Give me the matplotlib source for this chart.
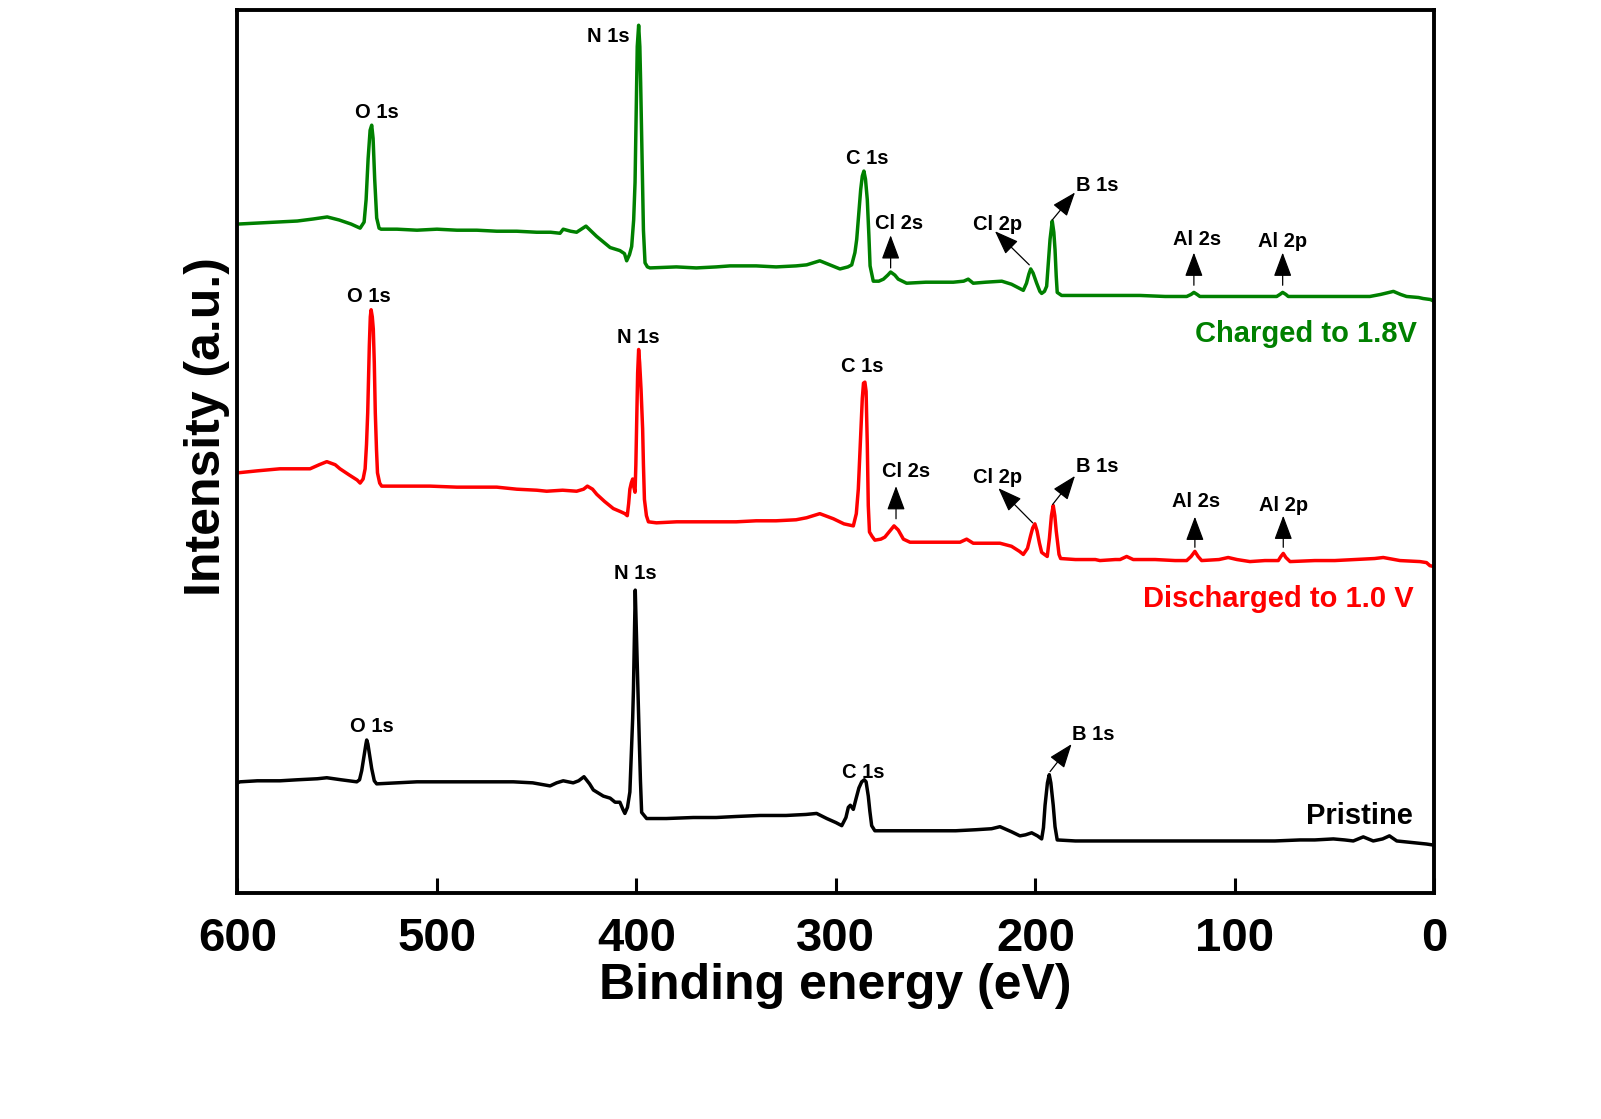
import matplotlib
matplotlib.use("Agg")
import matplotlib.pyplot as plt

plt.rcParams['font.family'] = ['Liberation Sans', 'DejaVu Sans']
plt.rcParams['font.weight'] = 'bold'

# ---- charged to 1.8 V (green) ----
e_charged = [600, 590, 580, 570, 562, 555, 549, 543, 538.5, 536.5, 535.5, 534.5, 533.5, 532.7, 532, 531.2,
             530.2, 529, 528, 520, 510, 500, 490, 480, 470, 460, 450, 443, 438.3, 436.7, 433, 430, 425.3, 420,
             413.2, 408.3, 406, 404.9, 403.5, 402.4, 401.4, 400.7, 400.2, 399.6, 398.9, 398.3, 397.9, 397.2,
             396.5, 395.7, 394.5, 393.2, 380, 370, 360, 353.1, 340, 330, 320, 314.7, 308.1, 303, 298, 294,
             292.1, 290.5, 289.6, 288.5, 287.6, 286.8, 286, 285.2, 284.3, 283.5, 282.9, 281.3, 278.5, 276.2,
             274, 272.6, 270.5, 268.8, 264.6, 255, 245, 241.2, 236, 233.7, 231.2, 225, 216.9, 212, 208, 206.1,
             204.5, 203.3, 202.4, 201.2, 199.4, 197.8, 196.9, 195.5, 194.4, 193.5, 192.7, 191.6, 190.8, 190.2,
             189.6, 189.1, 186.9, 175, 160, 147.6, 135, 124.2, 122, 120.6, 119, 117.6, 100, 90, 79.1, 77.5,
             76.1, 74.5, 73.3, 50, 40, 32.4, 27, 20.6, 17, 14, 8, 5.7, 2, 0]
i_charged = [656, 657, 658, 659, 661, 663, 660, 656, 652, 658, 680, 720, 748, 753, 740, 700,
             662, 652, 651, 651, 650, 651, 650, 650, 649, 649, 648, 648, 647, 651, 649, 648, 654, 644,
             633, 630, 627, 620, 626, 634, 660, 697, 760, 830, 851, 830, 795, 720,
             650, 618, 614, 613, 614, 613, 614, 615, 615, 614, 615, 616, 620, 616, 612, 614,
             616, 628, 641, 668, 690, 703, 708, 700, 680, 645, 615, 600, 600, 602,
             606, 609, 606, 602, 598, 599, 599, 599, 600, 602, 598, 599, 600, 597, 593, 591,
             598, 607, 612, 608, 598, 590, 588, 590, 595, 620, 641, 659, 648, 631,
             605, 589, 586, 586, 586, 586, 585, 585, 587, 589, 587, 585, 585, 585, 585, 587,
             589, 587, 585, 585, 585, 585, 587, 590, 587, 585, 584, 583, 582, 580]

# ---- discharged to 1.0 V (red) ----
e_discharged = [600, 590, 578.7, 570, 563.6, 559, 555.2, 551, 548.6, 544, 540, 538.5, 537, 536, 535.3, 534.7,
                533.9, 533.4, 533, 532.4, 531.9, 531.4, 530.9, 530.3, 529.8, 528.7, 527.7, 520, 510, 503.4,
                490, 480, 470, 460, 450, 445, 437, 430, 426.5, 424.6, 422, 419.9, 416, 411.6, 408, 405.8,
                404.6, 403.9, 403.3, 402.6, 401.9, 401.3, 400.7, 400.3, 399.9, 399.4, 398.9, 398.4, 397.7,
                396.9, 396.5, 396, 395, 394, 390, 379.8, 370, 360, 350, 340, 330, 320, 314.7, 308.1, 304,
                301.3, 296, 291.3, 289.8, 288.8, 287.8, 286.8, 286.2, 285.5, 284.9, 284.3, 283.8, 283.2, 282,
                280.5, 277.5, 275.5, 273, 270.9, 268.8, 266.2, 262.9, 250, 240, 237.8, 234.5, 231.2, 225,
                217.8, 212, 208, 206.1, 204, 202.5, 201.4, 200.3, 199.2, 198, 196.9, 194.1, 193, 192, 191.1,
                190.3, 189.6, 189.1, 188.2, 187.4, 180, 170, 167.7, 160, 157.6, 154.3, 151, 140, 130, 124.2,
                122, 120.1, 118.5, 116.7, 108, 103.4, 99, 92.5, 85, 78.3, 77, 75.8, 74.5, 72.4, 60, 50, 40,
                30, 25.7, 20, 17.3, 7.3, 4, 2.3, 0]
i_discharged = [412, 414, 416, 416, 416, 420, 423, 420, 416, 410, 405, 402, 406, 416, 440, 471,
                536, 565, 572, 565, 553, 520, 471, 435, 412, 402, 399, 399, 399, 399,
                398, 398, 398, 396, 395, 394, 395, 394, 396, 399, 396, 391, 384, 377, 374, 372,
                370, 382, 396, 402, 406, 398, 393, 420, 461, 510, 533, 520, 494,
                455, 420, 386, 370, 364, 363, 364, 364, 364, 364, 365, 365, 366, 368, 372, 369,
                367, 362, 360, 372, 396, 440, 485, 500, 501, 492, 440, 380, 354, 350,
                346, 347, 349, 355, 360, 356, 347, 344, 344, 344, 344, 347, 343, 343,
                343, 340, 335, 332, 338, 350, 358, 362, 355, 343, 334, 330, 348, 370, 380,
                370, 355, 347, 332, 328, 327, 327, 326, 327, 327, 330, 327, 327, 326, 326,
                330, 335, 330, 326, 327, 329, 327, 325, 326, 326, 330, 333, 329, 325, 326, 326, 327,
                328, 329, 327, 326, 325, 324, 321, 320]

# ---- pristine (black) ----
e_pristine = [600, 598.7, 590, 578.7, 570, 560, 555.2, 548, 540.2, 538.8, 537.7, 536.5, 535.6, 535.2, 534.6,
              533.6, 532.7, 531.4, 530.2, 520, 510, 503.4, 490, 480, 470, 461.7, 452, 446, 443.3, 440, 436.7,
              431.7, 429, 426.3, 423.5, 421.6, 419.9, 416.6, 413.2, 410.7, 408.3, 406.8, 405.8, 404.5, 403.3,
              402.7, 401.9, 401.5, 401.2, 400.9, 400.6, 400.1, 399.6, 399.1, 398.6, 398, 397.4, 394.9, 385,
              371.5, 360, 350, 338.1, 325, 315, 309.7, 304.6, 300, 297.1, 295, 293.8, 292.8, 291.3, 290,
              288.5, 287.1, 285.8, 284.9, 283.8, 283, 282.1, 280.5, 270, 262.9, 250, 240, 230, 222, 217.8,
              212, 207.8, 205, 201.9, 199, 196.9, 196, 195.2, 194, 193.1, 192.3, 191.1, 190.2, 189.1, 180,
              170, 160, 151, 140, 130, 120, 104.2, 90, 80, 67.4, 60, 50.7, 45, 40.7, 35.7, 30.7, 26, 22.6,
              18.9, 14, 9, 4, 0.6, 0]
i_pristine = [108, 109, 110, 110, 111, 112, 113, 111, 109, 111, 120, 135, 146, 150, 146,
              133, 122, 110, 107, 108, 109, 109, 109, 109, 109, 109, 108, 106, 105, 108, 110,
              108, 110, 114, 107, 101, 99, 95, 93, 89, 89, 82, 78, 84, 99,
              130, 171, 200, 230, 265, 297, 260, 223, 185, 151, 110, 79, 73, 73,
              74, 74, 75, 76, 76, 77, 78, 73, 69, 66, 74, 84, 86, 82, 92,
              103, 109, 111, 109, 95, 80, 66, 61, 61, 61, 61, 61, 62, 63, 65,
              60, 56, 57, 59, 56, 53, 64, 86, 108, 116, 108, 86, 65, 52, 51,
              51, 51, 51, 51, 51, 51, 51, 51, 51, 52, 52, 53, 52, 51, 55, 51, 53, 56,
              51, 50, 49, 48, 47, 47]

# peak labels: (text, energy, intensity)
labels_charged = [("O 1s", 530.2, 768), ("N 1s", 414.1, 843), ("C 1s", 284.1, 723),
                  ("Cl 2s", 268.3, 660), ("Cl 2p", 219, 659), ("B 1s", 168.8, 697),
                  ("Al 2s", 118.9, 644), ("Al 2p", 76.1, 642)]
labels_discharged = [("O 1s", 533.9, 588), ("N 1s", 399.1, 548), ("C 1s", 286.6, 519),
                     ("Cl 2s", 264.9, 416), ("Cl 2p", 219, 410), ("B 1s", 168.8, 421),
                     ("Al 2s", 119.3, 387), ("Al 2p", 75.6, 383)]
labels_pristine = [("O 1s", 532.7, 166), ("N 1s", 400.7, 316), ("C 1s", 286.3, 121),
                   ("B 1s", 171.1, 158)]

# arrows: (tail E, tail I, tip E, tip I)
arrows = [(272.6, 613, 272.6, 645), (203.1, 616, 220.3, 649), (191.6, 660, 180.2, 687),
          (120.6, 596, 120.6, 628), (76.1, 596, 76.1, 628),
          (269.9, 367, 269.9, 399), (201.4, 363, 218.6, 397), (191.4, 381, 180.2, 409),
          (120.1, 339, 120.1, 369), (75.8, 339, 75.8, 370),
          (192.7, 119, 181.9, 146)]

fig = plt.figure(figsize=(16.01, 11.19), dpi=100)
ax = fig.add_axes([0.1483, 0.2020, 0.7477, 0.7891])

ax.plot(e_charged, i_charged, color='#008000', lw=2.5)
ax.plot(e_discharged, i_discharged, color='#ff0000', lw=2.5)
ax.plot(e_pristine, i_pristine, color='black', lw=2.5)

dy = 3  # matplotlib centres on the full text box, nudge down a little
for group in (labels_charged, labels_discharged, labels_pristine):
    for txt, e, i in group:
        ax.text(e, i - dy, txt, fontsize=14.5, fontweight='bold', ha='center', va='center')

for e0, i0, e1, i1 in arrows:
    ax.annotate("", xy=(e1, i1), xytext=(e0, i0),
                arrowprops=dict(arrowstyle='-|>,head_length=0.75,head_width=0.28',
                                color='black', lw=0.9, mutation_scale=20,
                                shrinkA=0, shrinkB=0))

ax.text(9.0, 551 - dy, "Charged to 1.8V", color='#008000', fontsize=21, fontweight='bold',
        ha='right', va='center')
ax.text(10.7, 291 - dy, "Discharged to 1.0 V", color='#ff0000', fontsize=21, fontweight='bold',
        ha='right', va='center')
ax.text(10.7, 78 - dy, "Pristine", color='black', fontsize=21, fontweight='bold',
        ha='right', va='center')

ax.set_xlim(600, 0)
ax.set_ylim(0, 866)
ax.set_xticks([600, 500, 400, 300, 200, 100, 0])
ax.set_yticks([])
ax.tick_params(axis='x', direction='in', length=11, width=2.2, labelsize=34, pad=17)
for lab in ax.get_xticklabels():
    lab.set_fontweight('bold')
for sp in ax.spines.values():
    sp.set_linewidth(2.8)

fig.text(835 / 1601, 1 - 986 / 1119, "Binding energy (eV)", fontsize=36, fontweight='bold',
         ha='center', va='center')
fig.text(207 / 1601, 1 - 427 / 1119, "Intensity (a.u.)", fontsize=36, fontweight='bold',
         rotation=90, ha='center', va='center')

fig.savefig("out.png", dpi=100)
